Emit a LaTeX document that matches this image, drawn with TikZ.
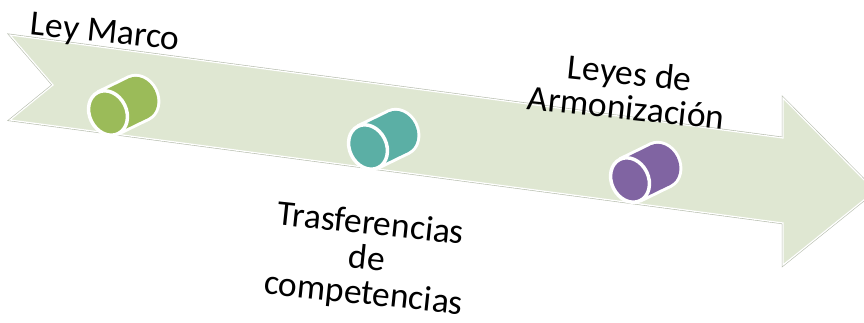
\documentclass[tikz,border=0pt]{standalone}
\usepackage{fontspec}
\setmainfont{Carlito}
\definecolor{bandfill}{HTML}{DFE7D2}
\definecolor{bandedge}{HTML}{B5BCAD}
\definecolor{barrelgreen}{HTML}{9BBB59}
\definecolor{barrelteal}{HTML}{5BAFA5}
\definecolor{barrelpurple}{HTML}{8064A2}

\begin{document}
\begin{tikzpicture}[
    x=1pt, y=-1pt,
    caption/.style={font=\fontsize{35.5}{35}\selectfont, align=center, rotate=-6, inner sep=0pt},
    pics/barrel/.style={code={
        % white halo, then body, then front face
        \fill[white] (34,0) ellipse [x radius=21, y radius=25];
        \fill[white] (0,-25) rectangle (34,25);
        \fill[#1] (34,0) ellipse [x radius=18, y radius=22];
        \fill[#1] (0,-22) rectangle (34,22);
        \filldraw[fill=#1, draw=white, line width=3.5pt] (0,0) ellipse [x radius=18.5, y radius=23];
    }}
]
    \useasboundingbox (0,0) rectangle (864,322);

    % Timeline band
    \draw[bandedge, line width=2.4pt, line join=miter]
        (10,35) -- (783,138) -- (783,98) -- (875,191) -- (783,265) -- (783,223) -- (10,120) -- (53,85) -- cycle;
    \filldraw[fill=bandfill, draw=white, line width=1.2pt]
        (10,35) -- (783,138) -- (783,98) -- (875,191) -- (783,265) -- (783,223) -- (10,120) -- (53,85) -- cycle;

    % Milestones
    \pic[rotate=26] (marco) at (108,113) {barrel=barrelgreen};
    \pic[rotate=26] (transfer) at (368,147) {barrel=barrelteal};
    \pic[rotate=26] (armon) at (630,180) {barrel=barrelpurple};

    % Labels
    \node[caption] (lmarco) at (105,34) {Ley Marco};
    \node[caption] (ltransfer) at (367,260) {Trasferencias\\de\\competencias};
    \node[caption] (larmon) at (628,90) {Leyes de\\Armonización};

\end{tikzpicture}
\end{document}
